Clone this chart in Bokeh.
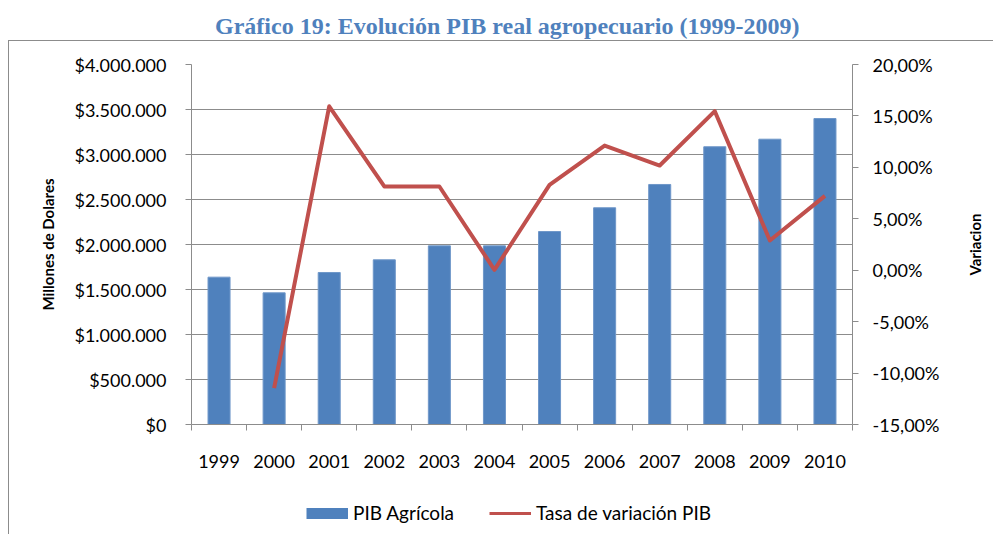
from bokeh.plotting import figure
from bokeh.models import Range1d, LinearAxis, FixedTicker, Legend, LegendItem, Div
from bokeh.layouts import column, row
from bokeh.embed import file_html
from bokeh.resources import INLINE

# ---- data ----
years = ["1999", "2000", "2001", "2002", "2003", "2004", "2005", "2006", "2007", "2008", "2009", "2010"]
pib_agricola = [1637000, 1463000, 1689000, 1830000, 1985000, 1985000,
                2144000, 2408000, 2667000, 3086000, 3170000, 3400000]
tasa_years = ["2000", "2001", "2002", "2003", "2004", "2005", "2006", "2007", "2008", "2009", "2010"]
tasa_variacion = [-11.47, 15.94, 8.14, 8.14, 0.04, 8.30, 12.12, 10.18, 15.46, 2.89, 7.23]

left_ticks = [0, 500000, 1000000, 1500000, 2000000, 2500000, 3000000, 3500000, 4000000]
left_labels = ["$0", "$500.000", "$1.000.000", "$1.500.000", "$2.000.000",
               "$2.500.000", "$3.000.000", "$3.500.000", "$4.000.000"]
right_ticks = [-15, -10, -5, 0, 5, 10, 15, 20]
right_labels = ["-15,00%", "-10,00%", "-5,00%", "0,00%", "5,00%", "10,00%", "15,00%", "20,00%"]

title_text = "Gráfico 19: Evolución PIB real agropecuario (1999-2009)"
bar_name = "PIB Agrícola"
line_name = "Tasa de variación PIB"
right_title = "Variacion"

BAR_COLOR = "#4F81BD"
LINE_COLOR = "#C0504D"
AXIS_COLOR = "#8C8C8C"
FONT = "Lato"
BORDER = "1px solid " + AXIS_COLOR

# positions of categories on a numeric axis
xpos = {y: i for i, y in enumerate(years)}
bar_x = [xpos[y] for y in years]
line_x = [xpos[y] for y in tasa_years]
n = len(years)

H = 444
p = figure(width=935, height=H, output_backend="svg", toolbar_location=None,
           x_range=Range1d(-0.5, n - 0.5), y_range=Range1d(0, 4000000),
           min_border_left=182, min_border_right=92, min_border_top=23, min_border_bottom=61,
           styles={"border-left": BORDER, "border-top": BORDER})
p.margin = (0, 0, 0, 8)
p.outline_line_color = None
p.extra_y_ranges = {"pct": Range1d(-15, 20)}

bars = p.vbar(x=bar_x, top=pib_agricola, width=0.4, fill_color=BAR_COLOR, line_color="#6F97C9", line_width=1)
line = p.line(x=line_x, y=tasa_variacion, y_range_name="pct", line_color=LINE_COLOR,
              line_width=4, line_join="round")

# x axis
xa = p.xaxis[0]
xa.ticker = FixedTicker(ticks=bar_x, minor_ticks=[i - 0.5 for i in range(n + 1)])
xa.major_label_overrides = {i: years[i] for i in range(n)}
xa.major_tick_out = 0
xa.major_tick_in = 0
xa.minor_tick_out = 6
xa.minor_tick_in = 0
xa.minor_tick_line_color = AXIS_COLOR
xa.axis_line_color = AXIS_COLOR
xa.major_label_standoff = 24
xa.major_label_text_font = FONT
xa.major_label_text_font_size = "18px"
xa.major_label_text_color = "#000000"

# left axis
ya = p.yaxis[0]
ya.ticker = FixedTicker(ticks=left_ticks, minor_ticks=[])
ya.major_label_overrides = {t: l for t, l in zip(left_ticks, left_labels)}
ya.major_tick_out = 6
ya.major_tick_in = 0
ya.major_tick_line_color = AXIS_COLOR
ya.axis_line_color = AXIS_COLOR
ya.major_label_standoff = 19
ya.major_label_text_font = FONT
ya.major_label_text_font_size = "18px"
ya.major_label_text_color = "#000000"
ya.axis_label = "Millones de Dolares"
ya.axis_label_text_font = FONT
ya.axis_label_text_font_style = "bold"
ya.axis_label_text_font_size = "15px"
ya.axis_label_text_color = "#000000"
ya.axis_label_standoff = 14

# right axis (ticks and labels)
ra = LinearAxis(y_range_name="pct", ticker=FixedTicker(ticks=right_ticks, minor_ticks=[]))
ra.major_label_overrides = {t: l for t, l in zip(right_ticks, right_labels)}
ra.major_tick_out = 6
ra.major_tick_in = 0
ra.major_tick_line_color = AXIS_COLOR
ra.axis_line_color = AXIS_COLOR
ra.major_label_standoff = 14
ra.major_label_text_font = FONT
ra.major_label_text_font_size = "18px"
ra.major_label_text_color = "#000000"
p.add_layout(ra, "right")

# grid
p.xgrid.visible = False
p.ygrid.ticker = FixedTicker(ticks=left_ticks, minor_ticks=[])
p.ygrid.grid_line_color = AXIS_COLOR
p.ygrid.grid_line_width = 1

# narrow strip on the right carrying the secondary-axis title (bottom-to-top, centred)
pr = figure(width=50, height=H, output_backend="svg", toolbar_location=None,
            x_range=Range1d(0, 1), y_range=Range1d(-15, 20), x_axis_type=None,
            min_border_left=40, min_border_right=0, min_border_top=23, min_border_bottom=61,
            styles={"border-top": BORDER})
pr.outline_line_color = None
pr.xgrid.visible = False
pr.ygrid.visible = False
va = pr.yaxis[0]
va.ticker = FixedTicker(ticks=[], minor_ticks=[])
va.axis_line_color = None
va.major_tick_line_color = None
va.minor_tick_line_color = None
va.major_tick_out = 0
va.major_tick_in = 0
va.minor_tick_out = 0
va.minor_tick_in = 0
va.major_label_standoff = 0
va.axis_label = right_title
va.axis_label_text_font = FONT
va.axis_label_text_font_style = "bold"
va.axis_label_text_font_size = "15px"
va.axis_label_text_color = "#000000"
va.axis_label_standoff = 0

# legend strip (same box, below the chart); its renderers sit outside its visible range
pl = figure(width=985, height=50, output_backend="svg", toolbar_location=None,
            x_range=Range1d(-200, -199), y_range=Range1d(-200, -199), x_axis_type=None, y_axis_type=None,
            min_border_left=182, min_border_right=142, min_border_top=0, min_border_bottom=0,
            styles={"border-left": BORDER})
pl.margin = (0, 0, 0, 8)
pl.outline_line_color = None
pl.xgrid.visible = False
pl.ygrid.visible = False
leg_bar = pl.line(x=bar_x, y=pib_agricola, line_color=BAR_COLOR, line_width=11, line_cap="butt")
leg_line = pl.line(x=line_x, y=tasa_variacion, line_color=LINE_COLOR, line_width=3, line_cap="butt")
legend = Legend(items=[LegendItem(label=bar_name, renderers=[leg_bar]),
                       LegendItem(label=line_name, renderers=[leg_line])],
                orientation="horizontal", location=(115, 10),
                border_line_color=None, background_fill_alpha=0,
                glyph_width=42, glyph_height=20, label_standoff=5, spacing=35,
                label_text_font=FONT, label_text_font_size="19px", label_text_color="#000000",
                margin=0, padding=0)
pl.add_layout(legend)

title_html = ('<div style="text-align:left; padding-left:210px; padding-top:4px; '
              'font-family:\'Liberation Serif\'; font-weight:bold; font-size:24px; color:%s; '
              'white-space:nowrap;">%s</div>' % (BAR_COLOR, title_text))
title = Div(text=title_html, width=993, height=30)

layout = column(title, row(p, pr), pl)
open("out.html", "w").write(file_html(layout, INLINE))
